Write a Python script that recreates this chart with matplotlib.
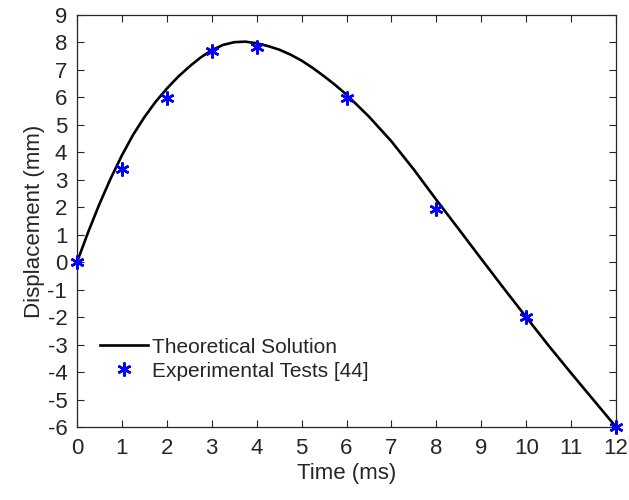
import matplotlib
matplotlib.use("Agg")
import matplotlib.pyplot as plt

plt.rcParams['font.family'] = ['Liberation Sans', 'DejaVu Sans']
plt.rcParams['axes.unicode_minus'] = False

# Theoretical solution
t_theory = [0, 0.25, 0.5, 0.75, 1, 1.25, 1.5, 1.75, 2, 2.25, 2.5, 2.75, 3,
            3.25, 3.5, 3.75, 4, 4.25, 4.5, 4.75, 5, 5.25, 5.5, 5.75, 6,
            6.5, 7, 7.5, 8, 8.5, 9, 9.5, 10, 10.5, 11, 11.5, 12]
d_theory = [0, 1.1, 2.12, 3.05, 3.89, 4.64, 5.28, 5.84, 6.32, 6.75, 7.12,
            7.45, 7.72, 7.91, 8.01, 8.03, 7.97, 7.87, 7.74, 7.56, 7.34, 7.07,
            6.77, 6.45, 6.1, 5.3, 4.4, 3.37, 2.27, 1.2, 0.12, -0.95, -2.0,
            -3.04, -4.04, -5.02, -6.0]

# Experimental tests [44]
t_exp = [0, 1, 2, 3, 4, 6, 8, 10, 12]
d_exp = [0, 3.38, 5.97, 7.69, 7.85, 5.97, 1.94, -2.0, -6.0]

xticks = list(range(0, 13))
yticks = list(range(-6, 10))

fig = plt.figure(figsize=(6.29, 5.0), dpi=100)
ax = fig.add_axes([0.1224, 0.146, 0.857, 0.824])

ax.plot(t_theory, d_theory, color='black', lw=1.9, label='Theoretical Solution')
ax.plot(t_exp, d_exp, linestyle='none', marker=(6, 2, 0), markersize=10,
        markeredgewidth=1.8, color='blue', markeredgecolor='blue',
        label='Experimental Tests [44]', clip_on=False, zorder=5)

ax.set_xlim(0, 12)
ax.set_ylim(-6, 9)
ax.set_xticks(xticks)
ax.set_yticks(yticks)

gray = '#262626'
for s in ax.spines.values():
    s.set_color(gray)
    s.set_linewidth(0.9)
ax.tick_params(direction='in', length=5, width=0.8, colors=gray,
               top=True, right=True, labelsize=16)
ax.tick_params(axis='x', pad=8)
ax.tick_params(axis='y', pad=7)

ax.set_xlabel('Time (ms)', fontsize=16, color=gray, labelpad=3)
ax.set_ylabel('Displacement (mm)', fontsize=16, color=gray, labelpad=2)

leg = ax.legend(loc='lower left', bbox_to_anchor=(0.027, 0.092), frameon=False,
                fontsize=15, handlelength=2.3, handletextpad=0.22,
                labelspacing=0.25, borderaxespad=0)
for txt in leg.get_texts():
    txt.set_color(gray)

fig.savefig('out.png', dpi=100)
